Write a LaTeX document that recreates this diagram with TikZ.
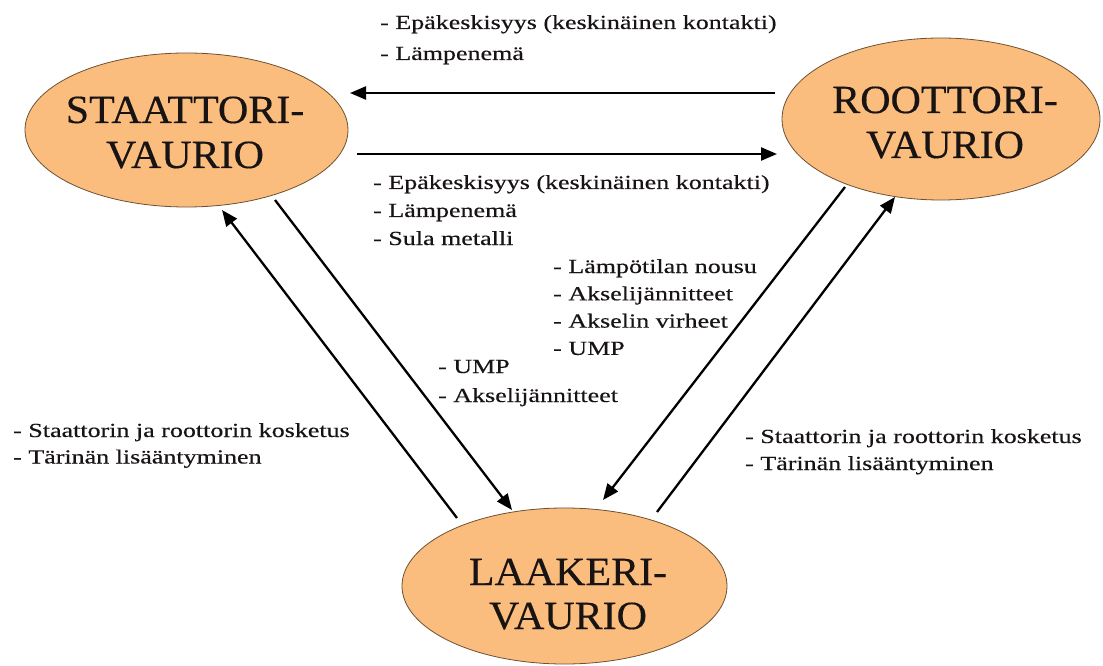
\documentclass[tikz,border=0pt]{standalone}
\usepackage{fontspec}
\setmainfont{Liberation Serif}[FakeBold=0.35]
\usepackage{graphicx}
\usetikzlibrary{shapes.geometric,arrows.meta,calc}
\definecolor{fillor}{RGB}{250,189,126}
\definecolor{edgebr}{RGB}{110,80,50}
\definecolor{txtc}{RGB}{25,20,20}
\newcommand{\smalllines}[1]{\scalebox{1.3}[1]{\begin{tabular}[t]{@{}l@{}}#1\end{tabular}}}
\newcommand{\biglines}[1]{\scalebox{1.05}[1]{\begin{tabular}[t]{@{}c@{}}#1\end{tabular}}}
\begin{document}
\begin{tikzpicture}[x=1pt,y=-1pt,
  state/.style={ellipse, draw=edgebr, line width=0.8pt, fill=fillor, inner sep=0pt},
  bigtxt/.style={anchor=base, inner sep=0pt, text=txtc, font=\fontsize{40}{45}\selectfont},
  smalltxt/.style={anchor=base west, inner sep=0pt, text=txtc, font=\fontsize{20}{28}\selectfont},
  arr/.style={line width=2.3pt, -{Triangle[length=16pt,width=13pt]}}]
\useasboundingbox[fill=white] (0,0) rectangle (1103,666);

\node[state, minimum width=323pt, minimum height=154pt] (stat) at (186.5,130) {};
\node[state, minimum width=318pt, minimum height=162pt] (root) at (941,119) {};
\node[state, minimum width=325pt, minimum height=156pt] (laak) at (564.5,586) {};

\node[bigtxt] (statt) at (185,123) {\biglines{STAATTORI-\\VAURIO}};
\node[bigtxt] (roott) at (945,113) {\biglines{ROOTTORI-\\VAURIO}};
\node[bigtxt, font=\fontsize{40}{44}\selectfont] (laakt) at (568,585) {\biglines{LAAKERI-\\VAURIO}};

\draw[arr] ($(root.center)+(-166,-26)$) -- ($(stat.center)+(163.5,-37)$);
\draw[arr] ($(stat.center)+(170.5,24)$) -- ($(root.center)+(-164,35)$);
\draw[arr] ($(stat.center)+(88.5,70)$) -- ($(laak.center)+(-52.5,-76)$);
\draw[arr] ($(laak.center)+(-107.5,-68)$) -- ($(stat.center)+(35.5,80)$);
\draw[arr] ($(root.center)+(-96,68)$) -- ($(laak.center)+(38.5,-86)$);
\draw[arr] ($(laak.center)+(92.5,-74)$) -- ($(root.center)+(-46,78)$);

\node[smalltxt, font=\fontsize{20}{31}\selectfont] (t1) at (380,29) {\smalllines{- Epäkeskisyys (keskinäinen kontakti)\\- Lämpenemä}};
\node[smalltxt] (t2) at (373,189) {\smalllines{- Epäkeskisyys (keskinäinen kontakti)\\- Lämpenemä\\- Sula metalli}};
\node[smalltxt, font=\fontsize{20}{27.3}\selectfont] (t3) at (553,273) {\smalllines{- Lämpötilan nousu\\- Akselijännitteet\\- Akselin virheet\\- UMP}};
\node[smalltxt, font=\fontsize{20}{29}\selectfont] (t4) at (438,373) {\smalllines{- UMP\\- Akselijännitteet}};
\node[smalltxt, font=\fontsize{20}{26.5}\selectfont] (t5) at (13,437) {\smalllines{- Staattorin ja roottorin kosketus\\- Tärinän lisääntyminen}};
\node[smalltxt, font=\fontsize{20}{27}\selectfont] (t6) at (745,443) {\smalllines{- Staattorin ja roottorin kosketus\\- Tärinän lisääntyminen}};
\end{tikzpicture}
\end{document}
